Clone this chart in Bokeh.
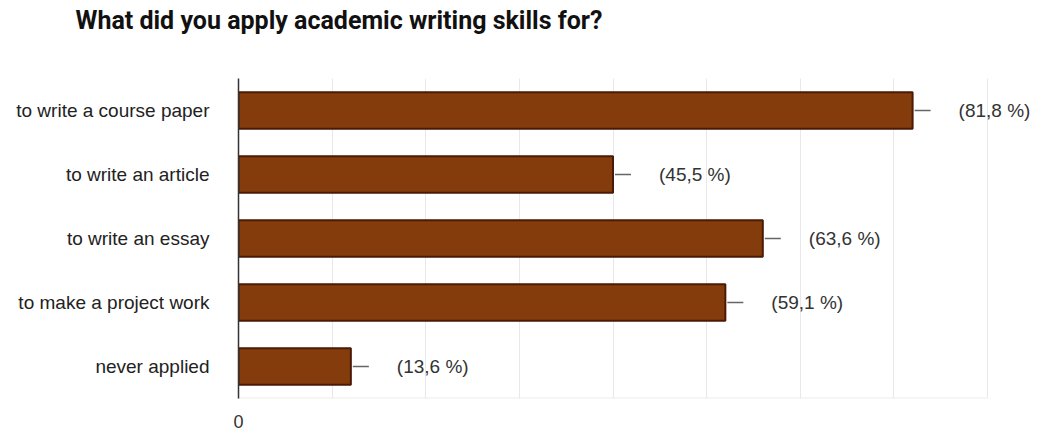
from bokeh.plotting import figure
from bokeh.models import Range1d, FactorRange, FixedTicker, ColumnDataSource, Title
from bokeh.core.properties import value
from bokeh.embed import file_html
from bokeh.resources import INLINE

title_text = "What did you apply academic writing skills for?"
categories = ["to write a course paper", "to write an article", "to write an essay",
              "to make a project work", "never applied"]
counts = [18, 10, 14, 13, 3]
pct_labels = ["(81,8 %)", "(45,5 %)", "(63,6 %)", "(59,1 %)", "(13,6 %)"]
grid_ticks = [2.5, 5, 7.5, 10, 12.5, 15, 17.5, 20]
x_ticks = [0]

BAR = "#843C0C"
EDGE = "#4A1A06"

W, H = 1037, 430
left, right, top, bottom = 238, 0, 78, 28
frame_w = W - left - right
px_per = 749 / 20.0
x_end = frame_w / px_per

p = figure(width=W, height=H, output_backend="svg", toolbar_location=None,
           y_range=FactorRange(factors=categories[::-1], range_padding=0),
           x_range=Range1d(0, x_end),
           min_border_left=left, min_border_right=right, min_border_top=top,
           min_border_bottom=bottom)
p.outline_line_color = None
p.background_fill_color = "white"

src = ColumnDataSource(dict(cat=categories, val=counts, lab=pct_labels,
                            d0=[v + 2 / px_per for v in counts],
                            d1=[v + 18 / px_per for v in counts]))

p.hbar(y="cat", left=0, right="val", height=0.57, source=src,
       fill_color=BAR, line_color=EDGE, line_width=2)
p.segment(x0="d0", x1="d1", y0="cat", y1="cat", source=src,
          line_color="#666666", line_width=1.3)
p.text(x="val", y="cat", text="lab", source=src, x_offset=46,
       text_font=value("Liberation Sans"), text_font_size="19px",
       text_color="#333333", text_baseline="middle", text_align="left")

# bottom frame line from 0 to 20
p.segment(x0=[0], x1=[20], y0=[0.005], y1=[0.005], line_color="#e4e4e4", line_width=1)

p.xgrid.ticker = FixedTicker(ticks=grid_ticks)
p.xgrid.grid_line_color = "#e8e8e8"
p.ygrid.grid_line_color = None

p.xaxis.ticker = FixedTicker(ticks=x_ticks)
p.xaxis.axis_line_color = None
p.xaxis.major_tick_line_color = None
p.xaxis.minor_tick_line_color = None
p.xaxis.major_label_standoff = 10
p.xaxis.major_label_text_font = "Liberation Sans"
p.xaxis.major_label_text_font_size = "18px"
p.xaxis.major_label_text_color = "#333333"

p.yaxis.axis_line_color = "#333333"
p.yaxis.axis_line_width = 1.5
p.yaxis.major_tick_line_color = None
p.yaxis.minor_tick_line_color = None
p.yaxis.major_label_standoff = 23
p.yaxis.major_label_text_font = "Liberation Sans"
p.yaxis.major_label_text_font_size = "19px"
p.yaxis.major_label_text_color = "#222222"

# main title (outermost in the top panel)
p.title.text = title_text
p.title.align = "left"
p.title.vertical_align = "top"
p.title.offset = 75 - left
p.title.standoff = 10
p.title.text_font = "Roboto"
p.title.text_font_style = "bold"
p.title.text_font_size = "25px"
p.title.text_color = "#111111"

# spacer between the title and the frame
spacer = Title(text=" ", text_font_size="10px", standoff=24)
p.add_layout(spacer, "above")

open("out.html", "w").write(file_html(p, INLINE))
